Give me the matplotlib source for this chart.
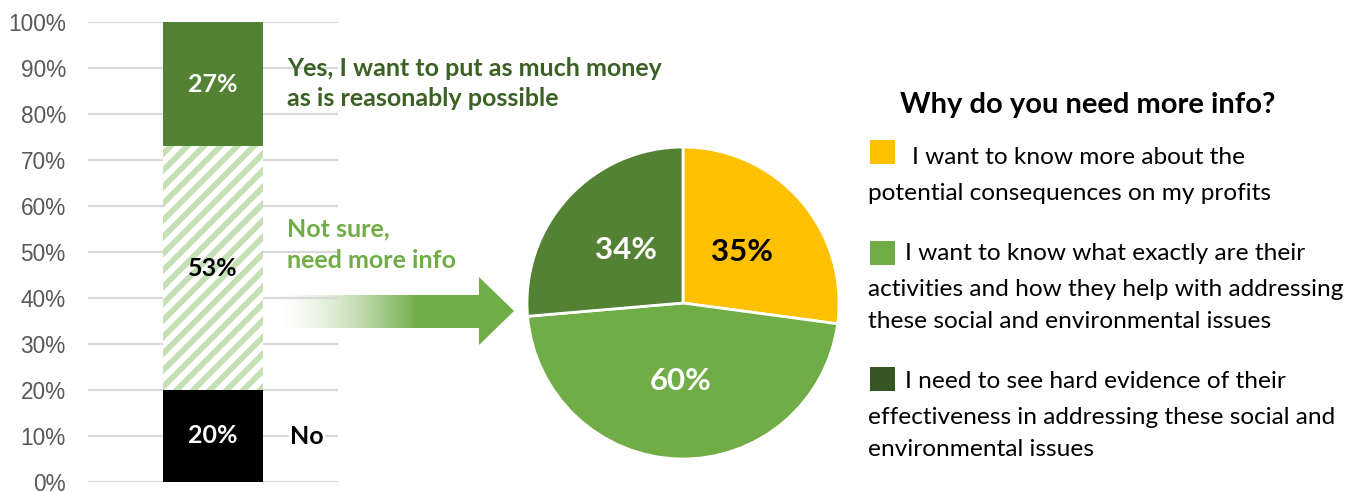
import numpy as np
import matplotlib
matplotlib.use("Agg")
import matplotlib.pyplot as plt
from matplotlib.patches import Polygon, Rectangle
from matplotlib.ticker import PercentFormatter

# ---- data ----
bar_segments = ["No", "Not sure, need more info", "Yes, I want to put as much money as is reasonably possible"]
bar_values = [20, 53, 27]
bar_labels = ["20%", "53%", "27%"]
y_ticks = [0, 10, 20, 30, 40, 50, 60, 70, 80, 90, 100]

pie_categories = [
    "I want to know more about the potential consequences on my profits",
    "I want to know what exactly are their activities and how they help with addressing these social and environmental issues",
    "I need to see hard evidence of their effectiveness in addressing these social and environmental issues",
]
pie_values = [35, 60, 34]
pie_labels = ["35%", "60%", "34%"]

legend_lines = [
    ["I want to know more about the", "potential consequences on my profits"],
    ["I want to know what exactly are their", "activities and how they help with addressing", "these social and environmental issues"],
    ["I need to see hard evidence of their", "effectiveness in addressing these social and", "environmental issues"],
]

# ---- style ----
BLACK = "#000000"
HATCH_GREEN = "#C5E0B4"
DARK_GREEN = "#548235"
MID_GREEN = "#70AD47"
YELLOW = "#FFC000"
LEG_DARK = "#375623"
TEXT_DARK_GREEN = "#3B6125"
TXT = "Lato"

plt.rcParams["hatch.linewidth"] = 4.2

W, H = 1364, 492
fig = plt.figure(figsize=(W / 100, H / 100), dpi=100)

def fx(px):
    return px / W

def fy(py):
    return 1 - py / H

# background overlay (arrow) and top overlay (free text), both in pixel coordinates
ov = fig.add_axes([0, 0, 1, 1], zorder=0)
ov.set_xlim(0, W)
ov.set_ylim(H, 0)
ov.axis("off")

top = fig.add_axes([0, 0, 1, 1], zorder=5)
top.set_xlim(0, W)
top.set_ylim(H, 0)
top.axis("off")
top.patch.set_alpha(0)

# ---- stacked bar ----
ax = fig.add_axes([fx(88), fy(482), fx(338) - fx(88), fy(22) - fy(482)], zorder=1)
ax.patch.set_alpha(0)
bottom = 0
bar_face = [BLACK, "white", DARK_GREEN]
bar_edge = [BLACK, HATCH_GREEN, DARK_GREEN]
bar_hatch = [None, "//", None]
label_col = ["white", "black", "white"]
for v, lab, fc, ec, ht, lc in zip(bar_values, bar_labels, bar_face, bar_edge, bar_hatch, label_col):
    ax.bar(0, v, bottom=bottom, width=0.4, color=fc, edgecolor=ec, hatch=ht, linewidth=0, zorder=3)
    ax.text(0, bottom + v / 2, lab, ha="center", va="center", fontsize=18,
            fontweight="bold", color=lc, family=TXT, zorder=4)
    bottom += v
ax.set_xlim(-0.5, 0.5)
ax.set_ylim(0, 100)
ax.set_yticks(y_ticks)
ax.yaxis.set_major_formatter(PercentFormatter(decimals=0))
ax.tick_params(axis="y", length=0, pad=16, labelsize=16.3, labelcolor="#595959")
for lbl in ax.get_yticklabels():
    lbl.set_family("Liberation Sans")
ax.set_xticks([])
ax.grid(axis="y", color="#D9D9D9", linewidth=1.6, zorder=0)
for s in ax.spines.values():
    s.set_visible(False)

# ---- bar annotations ----
top.text(287, 68, "Yes, I want to put as much money", fontsize=18, fontweight="bold",
         color=TEXT_DARK_GREEN, family=TXT, va="center", ha="left")
top.text(287, 99, "as is reasonably possible", fontsize=18, fontweight="bold",
         color=TEXT_DARK_GREEN, family=TXT, va="center", ha="left")
top.text(287, 229, "Not sure,", fontsize=18, fontweight="bold",
         color=MID_GREEN, family=TXT, va="center", ha="left")
top.text(287, 260, "need more info", fontsize=18, fontweight="bold",
         color=MID_GREEN, family=TXT, va="center", ha="left")
top.text(290, 436, "No", fontsize=18, fontweight="bold", color="black",
         family=TXT, va="center", ha="left", bbox=dict(facecolor="white", edgecolor="none", pad=1))

# ---- gradient arrow ----
arrow_pts = [(275, 295), (479, 295), (479, 277), (514, 311), (479, 345), (479, 328), (275, 328)]
poly = Polygon(arrow_pts, closed=True, facecolor="none", edgecolor="none")
ov.add_patch(poly)
x0, x1 = 275, 514
t = np.clip((np.linspace(x0, x1, 400) - x0) / (417 - x0), 0, 1)
alpha = t ** 1.6
rgb = np.array(matplotlib.colors.to_rgb(MID_GREEN))
img = np.ones((2, 400, 4))
img[..., :3] = rgb
img[..., 3] = alpha
im = ov.imshow(img, extent=(x0, x1, 345, 277), aspect="auto", interpolation="bilinear", zorder=2)
im.set_clip_path(poly)

# ---- pie ----
R = 156
cx, cy = 683, 303
pax = fig.add_axes([fx(cx - R), fy(cy + R), 2 * R / W, 2 * R / H], zorder=1)
wedges, _ = pax.pie(pie_values, colors=[YELLOW, MID_GREEN, DARK_GREEN], startangle=90,
                    counterclock=False, radius=1,
                    wedgeprops=dict(edgecolor="white", linewidth=2))
pie_txt_col = ["black", "white", "white"]
for w, lab, col in zip(wedges, pie_labels, pie_txt_col):
    ang = np.deg2rad((w.theta1 + w.theta2) / 2)
    pax.text(0.5 * np.cos(ang), 0.5 * np.sin(ang), lab, ha="center", va="center",
             fontsize=22.5, fontweight="bold", color=col, family=TXT)
pax.set_xlim(-1, 1)
pax.set_ylim(-1, 1)
pax.set_aspect("equal")
pax.axis("off")

# ---- legend ----
top.text(1088, 105, "Why do you need more info?", fontsize=21, fontweight="bold",
         color="black", family=TXT, ha="center", va="center")
sq_colors = [YELLOW, MID_GREEN, LEG_DARK]
sq_tops = [140, 241, 367]
first_x = [912, 905, 905]
line_ys = [[157, 194], [253, 290, 321], [382, 418, 450]]
for col, tp, lines, ys, fxp in zip(sq_colors, sq_tops, legend_lines, line_ys, first_x):
    top.add_patch(Rectangle((870, tp), 25, 24, facecolor=col, edgecolor="none"))
    for i, (ln, yy) in enumerate(zip(lines, ys)):
        top.text(fxp if i == 0 else 868, yy, ln, fontsize=17.6, color="black", family=TXT,
                 ha="left", va="center")

fig.savefig("out.png", dpi=100)
